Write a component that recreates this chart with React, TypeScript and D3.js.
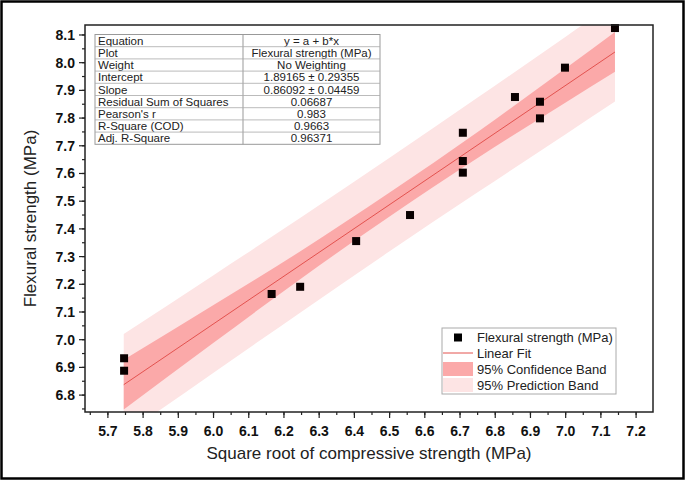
import React from "react";
import * as d3 from "d3";

// ---- Data ----
const pointX = [5.746, 5.746, 6.165, 6.246, 6.405, 6.558, 6.708, 6.708, 6.708, 6.856, 6.927, 6.927, 6.998, 7.14];
const pointY = [6.933, 6.888, 7.165, 7.191, 7.356, 7.45, 7.747, 7.645, 7.603, 7.876, 7.859, 7.799, 7.982, 8.125];

const fitIntercept = 1.89165;
const fitSlope = 0.86092;

const bandX = [5.745, 6.0, 6.25, 6.5, 6.75, 7.0, 7.14];
const confLow = [6.748, 6.989, 7.222, 7.445, 7.656, 7.856, 7.967];
const confHigh = [6.928, 7.125, 7.322, 7.531, 7.75, 7.98, 8.111];
const predLow = [6.655, 6.881, 7.101, 7.319, 7.532, 7.742, 7.86];
const predHigh = [7.021, 7.233, 7.443, 7.657, 7.874, 8.094, 8.218];

const xTicks = [5.7, 5.8, 5.9, 6.0, 6.1, 6.2, 6.3, 6.4, 6.5, 6.6, 6.7, 6.8, 6.9, 7.0, 7.1, 7.2];
const yTicks = [6.8, 6.9, 7.0, 7.1, 7.2, 7.3, 7.4, 7.5, 7.6, 7.7, 7.8, 7.9, 8.0, 8.1];

const tableLabels = ["Equation", "Plot", "Weight", "Intercept", "Slope", "Residual Sum of Squares", "Pearson's r", "R-Square (COD)", "Adj. R-Square"];
const tableValues = ["y = a + b*x", "Flexural strength (MPa)", "No Weighting", "1.89165 \u00b1 0.29355", "0.86092 \u00b1 0.04459", "0.06687", "0.983", "0.9663", "0.96371"];

const legendLabels = ["Flexural strength (MPa)", "Linear Fit", "95% Confidence Band", "95% Prediction Band"];

const W = 685, H = 480;
const L = 85, R = 653, T = 25, B = 412;
const FONT = "Arial, 'Liberation Sans', sans-serif";
const CONF_COLOR = "#FBA9A9";
const PRED_COLOR = "#FDE4E4";
const LINE_COLOR = "#E3524F";

export default function App() {
  const x = d3.scaleLinear().domain([5.635, 7.248]).range([L, R]);
  const y = d3.scaleLinear().domain([6.739, 8.136]).range([B, T]);

  const area = (lo: number[], hi: number[]) =>
    d3.area<number>()
      .x((_, i) => x(bandX[i]))
      .y0((_, i) => y(lo[i]))
      .y1((_, i) => y(hi[i]))
      .curve(d3.curveMonotoneX)(bandX.map((_, i) => i)) || "";

  const fitX0 = bandX[0], fitX1 = bandX[bandX.length - 1];
  const xMinor = d3.range(5.65, 7.248, 0.05);
  const yMinor = d3.range(6.75, 8.136, 0.05);

  const tblL = 95, tblDiv = 243, tblR = 380, tblT = 34.5, rowH = 12.2;
  const legL = 442, legR = 616, legT = 328, legB = 394;
  const legRows = [337.5, 353, 369, 385];

  return (
    <svg width={W} height={H} style={{ position: "absolute", left: 0, top: 0 }} fontFamily={FONT}>
      <rect x={0} y={0} width={W} height={H} fill="#fff" />
      <rect x={1.5} y={1.5} width={W - 3} height={H - 3} fill="none" stroke="#000" strokeWidth={2.5} />
      <defs>
        <clipPath id="plotClip">
          <rect x={L} y={T} width={R - L} height={B - T} />
        </clipPath>
      </defs>
      <g clipPath="url(#plotClip)">
        <path d={area(predLow, predHigh)} fill={PRED_COLOR} />
        <path d={area(confLow, confHigh)} fill={CONF_COLOR} />
        <line x1={x(fitX0)} y1={y(fitIntercept + fitSlope * fitX0)} x2={x(fitX1)} y2={y(fitIntercept + fitSlope * fitX1)} stroke={LINE_COLOR} strokeWidth={1} />
      </g>
      {pointX.map((px, i) => (
        <rect key={i} x={x(px) - 4} y={y(pointY[i]) - 4} width={8} height={8} fill="#0a0000" />
      ))}
      {/* frame */}
      <rect x={L} y={T} width={R - L} height={B - T} fill="none" stroke="#222" strokeWidth={1.5} />
      {/* x axis ticks */}
      {xMinor.map((v, i) => (
        <line key={"xm" + i} x1={x(v)} x2={x(v)} y1={B} y2={B + 3} stroke="#222" strokeWidth={1.2} />
      ))}
      {xTicks.map((v) => (
        <g key={"xt" + v}>
          <line x1={x(v)} x2={x(v)} y1={B} y2={B + 6} stroke="#222" strokeWidth={1.2} />
          <text x={x(v)} y={436} textAnchor="middle" fontSize={14} fontWeight="bold" fill="#111">{v.toFixed(1)}</text>
        </g>
      ))}
      {/* y axis ticks */}
      {yMinor.map((v, i) => (
        <line key={"ym" + i} x1={L} x2={L - 3} y1={y(v)} y2={y(v)} stroke="#222" strokeWidth={1.2} />
      ))}
      {yTicks.map((v) => (
        <g key={"yt" + v}>
          <line x1={L} x2={L - 6} y1={y(v)} y2={y(v)} stroke="#222" strokeWidth={1.2} />
          <text x={75} y={y(v) + 5} textAnchor="end" fontSize={14} fontWeight="bold" fill="#111">{v.toFixed(1)}</text>
        </g>
      ))}
      {/* axis titles */}
      <text x={(L + R) / 2} y={459} textAnchor="middle" fontSize={17} fill="#222">Square root of compressive strength (MPa)</text>
      <text transform={`translate(36,${(T + B) / 2}) rotate(-90)`} textAnchor="middle" fontSize={17} fill="#222">Flexural strength (MPa)</text>
      {/* table */}
      <g>
        <rect x={tblL} y={tblT} width={tblR - tblL} height={rowH * tableLabels.length} fill="#fff" stroke="#999" strokeWidth={1} />
        <line x1={tblDiv} x2={tblDiv} y1={tblT} y2={tblT + rowH * tableLabels.length} stroke="#999" strokeWidth={1} />
        {tableLabels.map((lab, i) => (
          <g key={"tr" + i}>
            {i > 0 && <line x1={tblL} x2={tblR} y1={tblT + rowH * i} y2={tblT + rowH * i} stroke="#aaa" strokeWidth={0.8} />}
            <text x={tblL + 3} y={tblT + rowH * i + 10.3} fontSize={11.5} fill="#222">{lab}</text>
            <text x={(tblDiv + tblR) / 2} y={tblT + rowH * i + 10.3} fontSize={11.5} fill="#222" textAnchor="middle">{tableValues[i]}</text>
          </g>
        ))}
      </g>
      {/* legend */}
      <g>
        <rect x={legL} y={legT} width={legR - legL} height={legB - legT} fill="#fff" stroke="#aaa" strokeWidth={1} />
        <rect x={454} y={legRows[0] - 4} width={8} height={8} fill="#000" />
        <line x1={443} x2={473} y1={legRows[1]} y2={legRows[1]} stroke={LINE_COLOR} strokeWidth={1} />
        <rect x={443} y={legRows[2] - 7} width={30} height={14} fill={CONF_COLOR} />
        <rect x={443} y={legRows[3] - 7} width={30} height={14} fill={PRED_COLOR} />
        {legendLabels.map((lab, i) => (
          <text key={"lg" + i} x={477} y={legRows[i] + 4.5} fontSize={13} fill="#222">{lab}</text>
        ))}
      </g>
    </svg>
  );
}
